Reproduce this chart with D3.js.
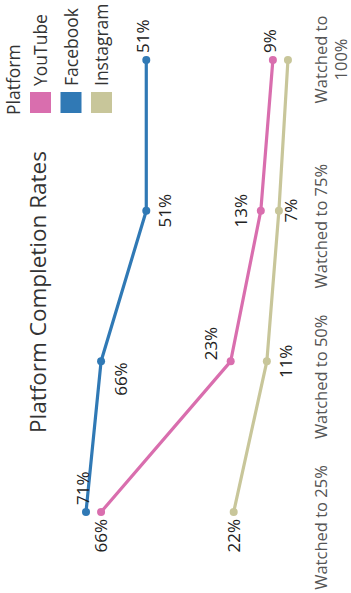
<!DOCTYPE html>
<html>
<head>
<meta charset="utf-8">
<script src="https://cdn.jsdelivr.net/npm/d3@7"></script>
<style>
  html, body { margin: 0; padding: 0; background: #fff; }
  svg { display: block; font-family: "Open Sans", "Noto Sans", sans-serif; }
</style>
</head>
<body>
<div id="chart"></div>
<script>
// ---- data ----
const categories = ["Watched to 25%", "Watched to 50%", "Watched to 75%", "Watched to 100%"];
const platforms = ["YouTube", "Facebook", "Instagram"];
const youtubeValues = [66, 23, 13, 9];
const facebookValues = [71, 66, 51, 51];
const instagramValues = [22, 11, 7, 4];
const legendTitle = "Platform";
const chartTitle = "Platform Completion Rates";

// ---- presentation (kept apart from data) ----
const platformColors = ["#d96eae", "#3079b5", "#c8c69a"];
// label placement per point: L left, R right, A above, B below, AR above-right, BL below-left, null hidden
const labelPlacement = {
  YouTube:   ["L", "AR", "A", "R"],
  Facebook:  ["R", "BL", "B", "R"],
  Instagram: ["L", "B", "B", null]
};

const series = [
  { name: "YouTube", values: youtubeValues, color: platformColors[0] },
  { name: "Facebook", values: facebookValues, color: platformColors[1] },
  { name: "Instagram", values: instagramValues, color: platformColors[2] }
];

// Chart is drawn in landscape (593 x 351) and rotated -90deg into the 351 x 593 page
const W = 593, H = 351;
const svg = d3.select("#chart").append("svg")
  .attr("width", H).attr("height", W);
const g = svg.append("g").attr("transform", `translate(0,${W}) rotate(-90)`);

const x = d3.scalePoint().domain(categories).range([81, 533]);
const maxV = d3.max(series, s => d3.max(s.values));
const y = d3.scaleLinear().domain([0, maxV]).range([300, 86]);

// title
g.append("text")
  .attr("x", 301).attr("y", 46)
  .attr("text-anchor", "middle")
  .attr("font-size", 22.5)
  .attr("fill", "#333")
  .text(chartTitle);

// category axis
const axis = g.append("g")
  .attr("transform", `translate(0,${y(0)})`)
  .call(d3.axisBottom(x).tickSize(0).tickPadding(15));
axis.select(".domain").remove();
axis.selectAll("text")
  .attr("font-size", 16.5)
  .attr("font-family", "'Open Sans', sans-serif")
  .attr("fill", "#555")
  .each(function(d) {
    const t = d3.select(this);
    if (d.length > 14) {
      const idx = d.lastIndexOf(" ");
      const first = d.slice(0, idx), second = d.slice(idx + 1);
      t.text(null);
      t.append("tspan").attr("x", 0).text(first);
      t.append("tspan").attr("x", 0).attr("dy", "1.2em").text(second);
    } else {
      t.attr("dx", -16);
    }
  });

// lines
const line = d3.line()
  .x((d, i) => x(categories[i]))
  .y(d => y(d));

const seriesG = g.selectAll("g.series")
  .data(series.slice().reverse())
  .join("g").attr("class", "series");

seriesG.append("path")
  .attr("d", d => line(d.values))
  .attr("fill", "none")
  .attr("stroke", d => d.color)
  .attr("stroke-width", 3.2)
  .attr("stroke-linejoin", "round")
  .attr("stroke-linecap", "round");

seriesG.selectAll("circle")
  .data(d => d.values.map((v, i) => ({ v, i, color: d.color })))
  .join("circle")
  .attr("cx", d => x(categories[d.i]))
  .attr("cy", d => y(d.v))
  .attr("r", 4)
  .attr("fill", d => d.color);

// data labels
const labelData = [];
series.forEach(s => {
  s.values.forEach((v, i) => {
    const p = labelPlacement[s.name][i];
    if (p) labelData.push({ v, i, p });
  });
});
const yFloor = y(0) - 9;
g.append("g").selectAll("text")
  .data(labelData)
  .join("text")
  .attr("font-size", 17)
  .attr("fill", "#222")
  .attr("dy", "0.35em")
  .attr("text-anchor", d => ({ L: "end", R: "start", A: "middle", B: "middle", AR: "start", BL: "end" })[d.p])
  .attr("x", d => {
    const cx = x(categories[d.i]);
    return cx + ({ L: -7, R: 7, A: 0, B: 0, AR: 1, BL: -1 })[d.p];
  })
  .attr("y", d => {
    const cy = y(d.v) + ({ L: 0, R: -3, A: -20, B: 19, AR: -20, BL: 20 })[d.p];
    return Math.min(cy, yFloor);
  })
  .text(d => d.v + "%");

// legend
const legend = g.append("g").attr("transform", "translate(478,0)");
legend.append("text")
  .attr("x", 0).attr("y", 20)
  .attr("font-size", 17.5)
  .attr("fill", "#333")
  .text(legendTitle);
const items = legend.selectAll("g.item")
  .data(platforms)
  .join("g").attr("class", "item")
  .attr("transform", (d, i) => `translate(2,${30 + i * 30.5})`);
items.append("rect")
  .attr("width", 21).attr("height", 21)
  .attr("fill", (d, i) => platformColors[i]);
items.append("text")
  .attr("x", 27).attr("y", 11).attr("dy", "0.35em")
  .attr("font-size", 17.5)
  .attr("fill", "#333")
  .text(d => d);
</script>
</body>
</html>
